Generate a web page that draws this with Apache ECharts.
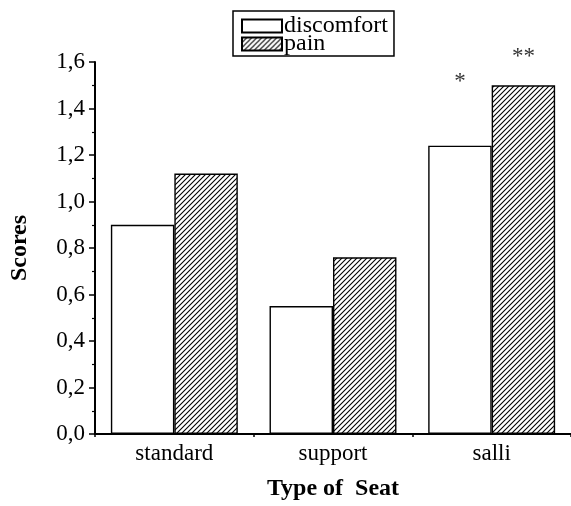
<!DOCTYPE html>
<html><head><meta charset="utf-8">
<script src="https://cdn.jsdelivr.net/npm/echarts@6/dist/echarts.min.js"></script>
<style>html,body{margin:0;padding:0;background:#fff}#c{width:571px;height:506px}</style>
</head><body><div id="c"></div>
<script>
const categories = ['standard', 'support', 'salli'];
const discomfort = [0.9, 0.55, 1.24];
const pain = [1.12, 0.76, 1.5];
const discomfortMarks = ['', '', '*'];
const painMarks = ['', '', '**'];
const yTicks = { min: 0, max: 1.6, interval: 0.2 };

const FONT = '"Liberation Serif", "Times New Roman", serif';

function hatch() {
  const s = 5, c = document.createElement('canvas');
  c.width = s; c.height = s;
  const g = c.getContext('2d');
  g.fillStyle = '#fff'; g.fillRect(0, 0, s, s);
  g.strokeStyle = '#000'; g.lineWidth = 1.1;
  g.beginPath();
  g.moveTo(-1, s + 1); g.lineTo(s + 1, -1);
  g.moveTo(-1, 1); g.lineTo(1, -1);
  g.moveTo(s - 1, s + 1); g.lineTo(s + 1, s - 1);
  g.stroke();
  return c;
}
const pattern = { image: hatch(), repeat: 'repeat' };

function withMarks(vals, marks, dist) {
  return vals.map((v, i) => marks[i] ? {
    value: v,
    label: { show: true, position: 'top', formatter: marks[i], distance: dist,
             fontSize: 23, color: '#333', fontFamily: FONT }
  } : v);
}

const chart = echarts.init(document.getElementById('c'));
chart.setOption({
  animation: false,
  textStyle: { fontFamily: FONT },
  grid: { left: 93, top: 62, width: 480, bottom: 65, containLabel: false },
  legend: {
    orient: 'vertical', left: 233, top: 11,
    backgroundColor: '#fff', borderColor: '#000', borderWidth: 1.5, borderRadius: 0,
    padding: [3, 6, 0, 8], itemWidth: 40, itemHeight: 13, itemGap: -6,
    textStyle: { fontSize: 24, color: '#000', fontFamily: FONT, padding: [0, 0, 0, -3] },
    data: [{ name: 'discomfort', icon: 'rect' }, { name: 'pain', icon: 'rect' }]
  },
  xAxis: {
    type: 'category', data: categories,
    name: 'Type of  Seat', nameLocation: 'middle', nameGap: 43,
    nameTextStyle: { fontSize: 24, fontWeight: 'bold', color: '#000', fontFamily: FONT },
    axisLine: { lineStyle: { color: '#000', width: 2 } },
    axisTick: { show: true, length: 3, lineStyle: { color: '#000', width: 1.5 } },
    axisLabel: { fontSize: 23, color: '#000', margin: 8, fontFamily: FONT },
    splitLine: { show: false }
  },
  yAxis: {
    type: 'value', min: yTicks.min, max: yTicks.max, interval: yTicks.interval,
    name: 'Scores', nameLocation: 'middle', nameGap: 63,
    nameTextStyle: { fontSize: 24, fontWeight: 'bold', color: '#000', fontFamily: FONT },
    axisLine: { show: true, lineStyle: { color: '#000', width: 2 } },
    axisTick: { show: true, length: 6, lineStyle: { color: '#000', width: 1.5 } },
    minorTick: { show: true, splitNumber: 2, length: 3, lineStyle: { color: '#000', width: 1.2 } },
    axisLabel: { fontSize: 23, color: '#000', margin: 10, fontFamily: FONT,
                 formatter: v => v.toFixed(1).replace('.', ',') },
    splitLine: { show: false }
  },
  series: [
    { name: 'discomfort', type: 'bar', barGap: '0%', barCategoryGap: '20%',
      itemStyle: { color: '#fff', borderColor: '#000', borderWidth: 1.4 },
      data: withMarks(discomfort, discomfortMarks, 52) },
    { name: 'pain', type: 'bar',
      itemStyle: { color: pattern, borderColor: '#000', borderWidth: 1.4 },
      data: withMarks(pain, painMarks, 17) }
  ]
});
</script></body></html>
